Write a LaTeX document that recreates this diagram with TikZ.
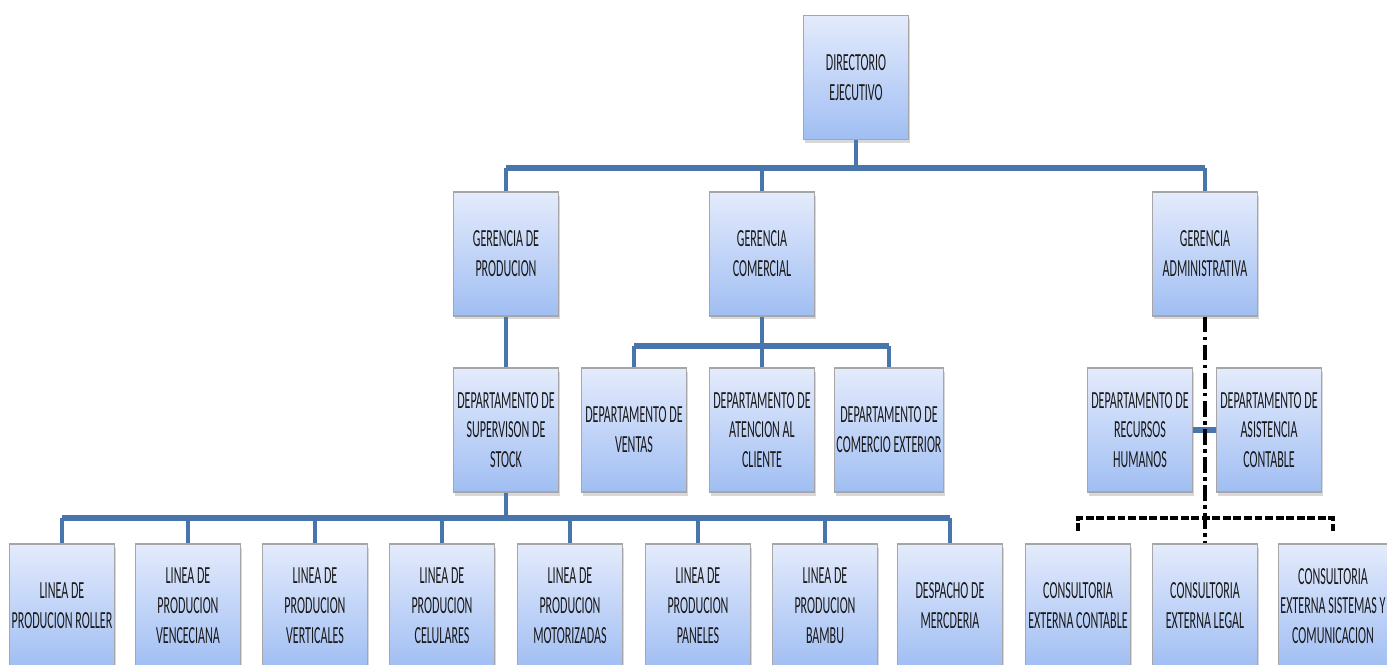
\documentclass[tikz,border=0pt]{standalone}
\usepackage{fontspec}
\setmainfont{Carlito}[FakeStretch=0.49]
\usepackage{xcolor}
\usetikzlibrary{shadows}

\definecolor{cajaA}{RGB}{228,235,252}
\definecolor{cajaB}{RGB}{160,190,243}
\definecolor{linea}{RGB}{72,118,172}

\begin{document}
\begin{tikzpicture}[x=0.02cm, y=-0.02cm,
  caja/.style={rectangle, draw=black!35, line width=0.6pt, top color=cajaA, bottom color=cajaB,
    minimum width=2.1cm, minimum height=2.48cm, align=center, inner sep=1pt,
    text=black!90, font=\fontsize{14}{17}\selectfont,
    drop shadow={shadow xshift=1pt, shadow yshift=-2pt, fill=black!30}},
  bus/.style={linea, line width=3.4pt},
  rama/.style={linea, line width=2pt},
  apoyo/.style={black, line width=2.4pt, dash pattern=on 9pt off 2.5pt on 2pt off 2.5pt},
  externo/.style={black, line width=2.4pt, dash pattern=on 4.5pt off 1.5pt}]
\useasboundingbox (0,0) rectangle (1387,665);

% Top level
\node[caja] (dir) at (856,77.5) {DIRECTORIO\\EJECUTIVO};

% Gerencias
\node[caja] (gprod) at (506,254) {GERENCIA DE\\PRODUCION};
\node[caja] (gcom) at (762,254) {GERENCIA\\COMERCIAL};
\node[caja] (gadm) at (1205,254) {GERENCIA\\ADMINISTRATIVA};

% Departamentos
\node[caja] (dstock) at (506,430) {DEPARTAMENTO DE\\SUPERVISON DE\\STOCK};
\node[caja] (dvent) at (634,430) {DEPARTAMENTO DE\\VENTAS};
\node[caja] (daten) at (762,430) {DEPARTAMENTO DE\\ATENCION AL\\CLIENTE};
\node[caja] (dcomex) at (889,430) {DEPARTAMENTO DE\\COMERCIO EXTERIOR};
\node[caja] (drrhh) at (1140,430) {DEPARTAMENTO DE\\RECURSOS\\HUMANOS};
\node[caja] (dasis) at (1269,430) {DEPARTAMENTO DE\\ASISTENCIA\\CONTABLE};

% Lineas de produccion
\node[caja] (lroll) at (62,606) {LINEA DE\\PRODUCION ROLLER};
\node[caja] (lvenc) at (188,606) {LINEA DE\\PRODUCION\\VENCECIANA};
\node[caja] (lvert) at (315,606) {LINEA DE\\PRODUCION\\VERTICALES};
\node[caja] (lcel) at (442,606) {LINEA DE\\PRODUCION\\CELULARES};
\node[caja] (lmot) at (570,606) {LINEA DE\\PRODUCION\\MOTORIZADAS};
\node[caja] (lpan) at (698,606) {LINEA DE\\PRODUCION\\PANELES};
\node[caja] (lbam) at (825,606) {LINEA DE\\PRODUCION\\BAMBU};
\node[caja] (desp) at (950,606) {DESPACHO DE\\MERCDERIA};

% Consultorias externas
\node[caja] (ccont) at (1078,606) {CONSULTORIA\\EXTERNA CONTABLE};
\node[caja] (clegal) at (1205,606) {CONSULTORIA\\EXTERNA LEGAL};
\node[caja] (csist) at (1333,606) {CONSULTORIA\\EXTERNA SISTEMAS Y\\COMUNICACION};

% bus heights
\coordinate (b1) at (0,168);
\coordinate (b2) at (0,346);
\coordinate (b3) at (0,518);

% Directorio -> gerencias
\draw[rama] (dir.south) -- (dir.south |- b1);
\foreach \g in {gprod,gcom,gadm}
  \draw[rama] (\g.north) -- (\g.north |- b1);
\draw[bus] (gprod.north |- b1) -- (gadm.north |- b1);

% Produccion
\draw[rama] (gprod.south) -- (dstock.north);
\draw[rama] (dstock.south) -- (dstock.south |- b3);
\foreach \l in {lroll,lvenc,lvert,lcel,lmot,lpan,lbam,desp}
  \draw[rama] (\l.north) -- (\l.north |- b3);
\draw[bus] (lroll.north |- b3) -- (desp.north |- b3);

% Comercial
\draw[rama] (gcom.south) -- (gcom.south |- b2);
\foreach \d in {dvent,daten,dcomex}
  \draw[rama] (\d.north) -- (\d.north |- b2);
\draw[bus] (dvent.north |- b2) -- (dcomex.north |- b2);

% Administrativa
\draw[rama, line width=3pt] (drrhh.east) -- (dasis.west);
\draw[apoyo] (gadm.south) -- (clegal.north);
\draw[externo] ([yshift=7pt]ccont.north) |- (clegal.north |- b3) -| ([yshift=7pt]csist.north);

\end{tikzpicture}
\end{document}
